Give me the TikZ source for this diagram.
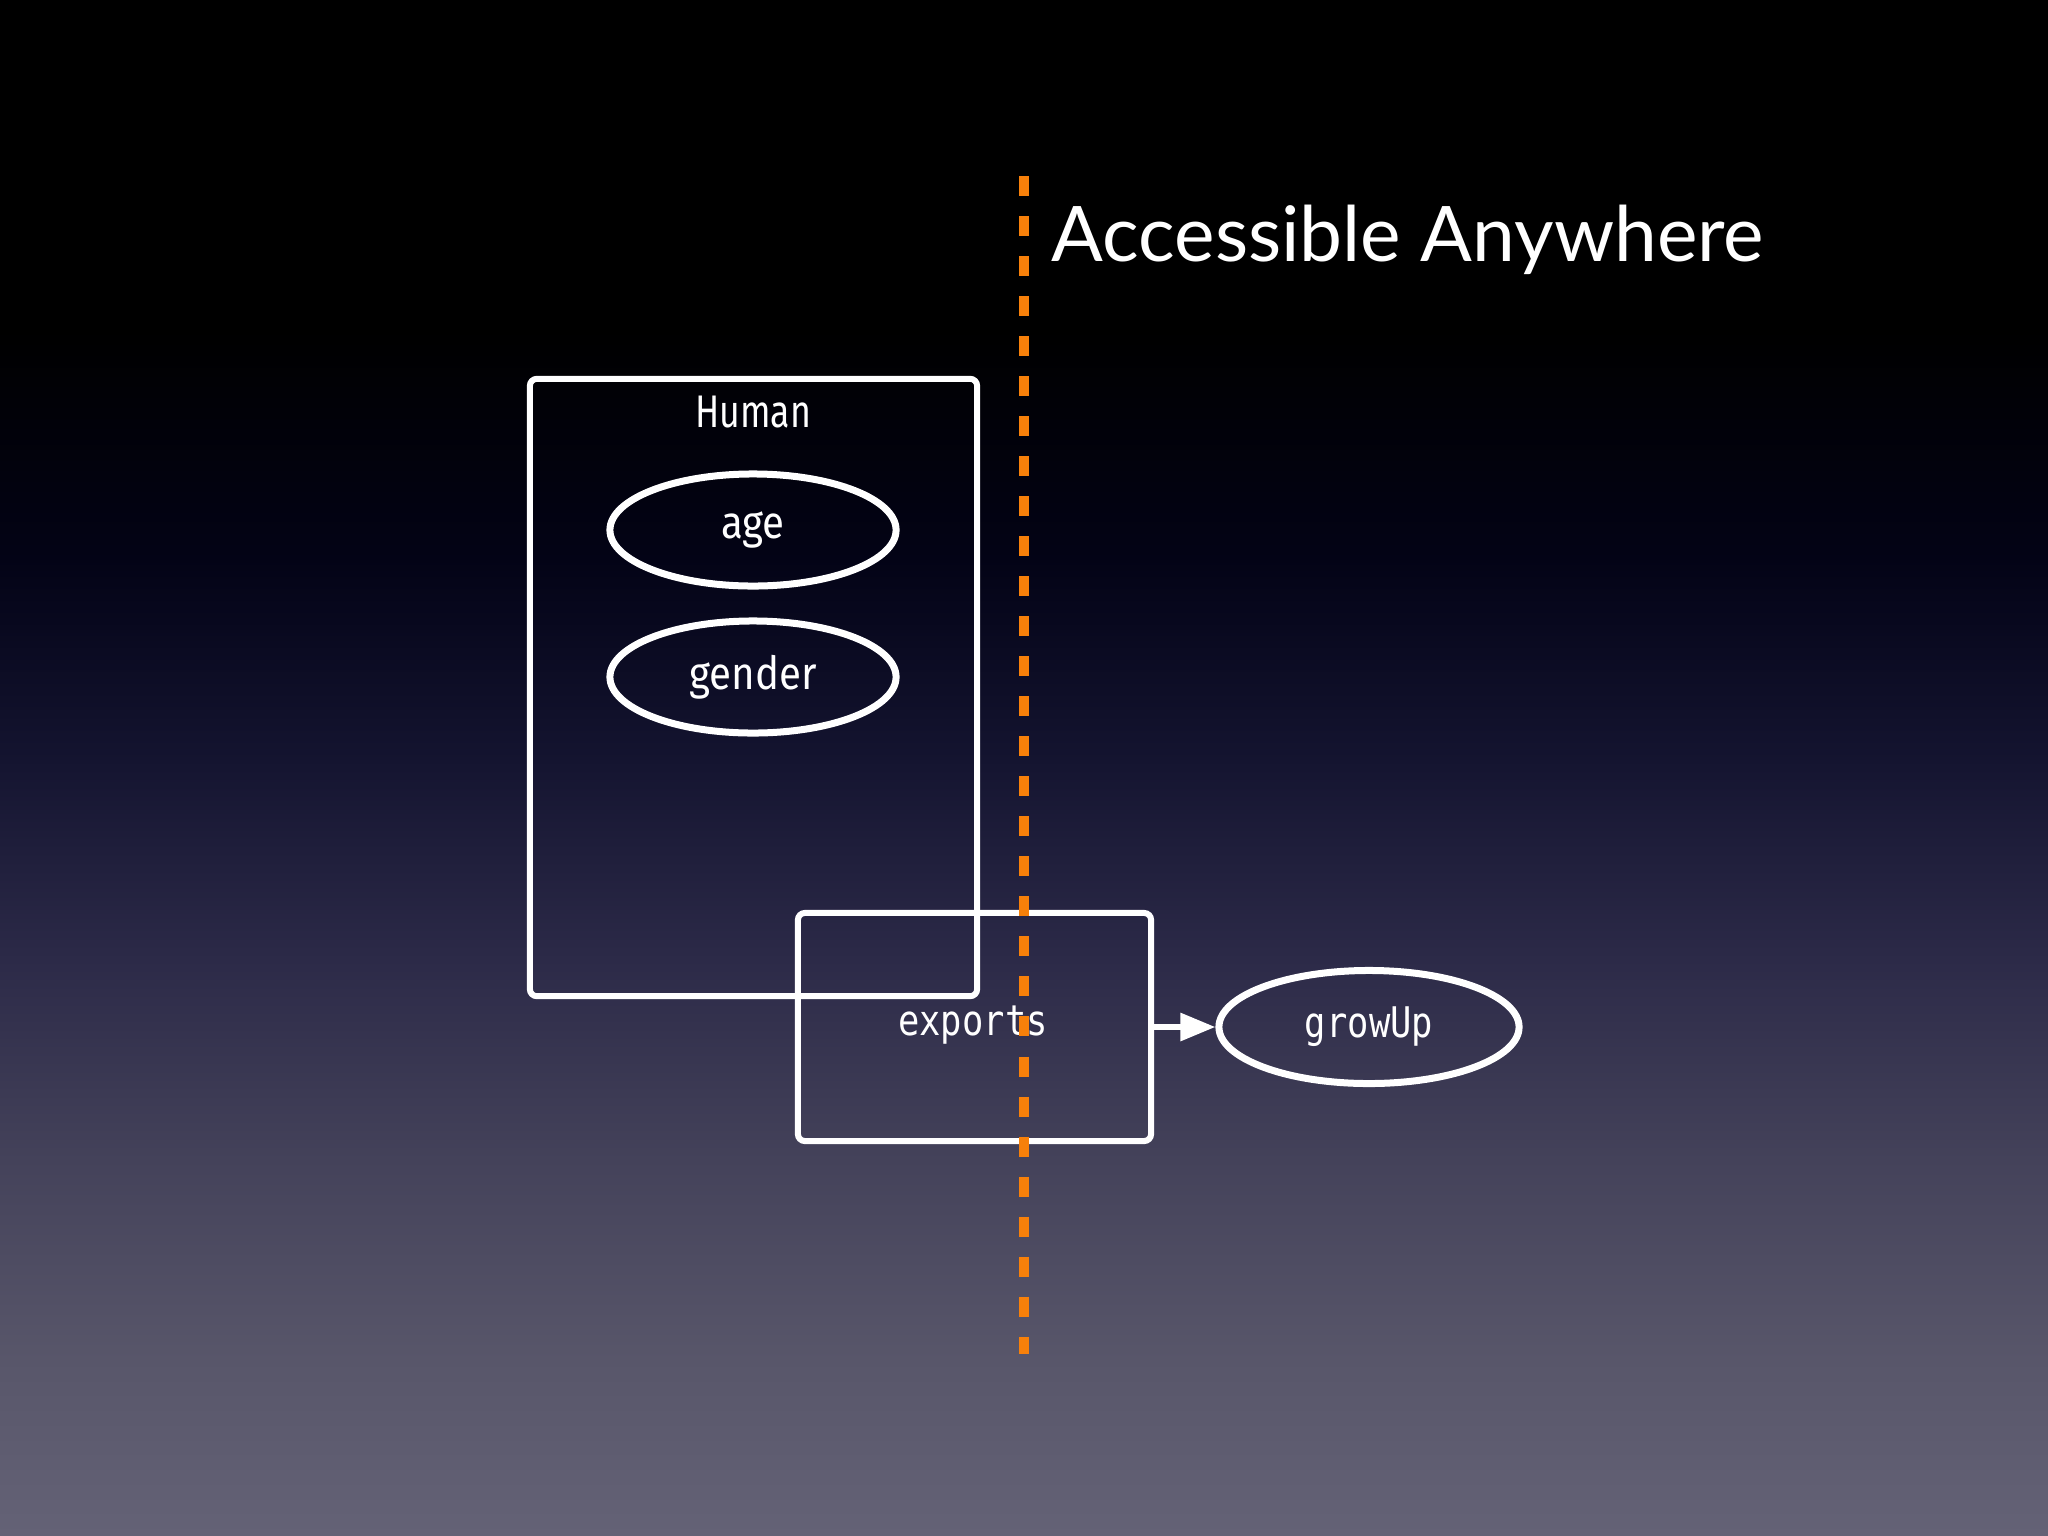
\documentclass[tikz,border=0pt]{standalone}
\usepackage{fontspec}
\usetikzlibrary{arrows.meta,shapes.geometric}
\newfontfamily\titlefont{Lato}
\newfontfamily\labelfont[FakeStretch=0.88]{Fira Sans}
\newfontfamily\headfont[FakeStretch=0.78]{Fira Sans}
\newfontfamily\codefont[FakeStretch=0.84]{DejaVu Sans Mono}
\definecolor{bgA}{RGB}{0,0,0}
\definecolor{bgB}{RGB}{3,3,22}
\definecolor{bgC}{RGB}{20,20,48}
\definecolor{bgD}{RGB}{44,42,72}
\definecolor{bgE}{RGB}{68,66,90}
\definecolor{bgF}{RGB}{88,86,106}
\definecolor{bgG}{RGB}{100,98,118}
\definecolor{dashorange}{RGB}{247,128,10}
\tikzset{
  frame/.style={draw=white, line width=0.06cm, rounded corners=0.07cm, inner sep=0pt},
  oval/.style={draw=white, ellipse, line width=0.07cm, inner sep=0pt, text=white, font=\labelfont\fontsize{13}{15}\selectfont},
  lbl/.style={text=white, inner sep=0pt},
  link/.style={draw=white, line width=0.06cm, -{Triangle[length=0.35cm,width=0.27cm]}},
  divider/.style={draw=dashorange, line width=0.1cm, dash pattern=on 0.2cm off 0.2cm}
}
\begin{document}
\begin{tikzpicture}[x=0.01cm,y=-0.01cm]
% background
\useasboundingbox (0,0) rectangle (2048,1536);
\fill[bgA] (0,0) rectangle (2048,330);
\shade[top color=bgA, bottom color=bgB] (0,329) rectangle (2048,560);
\shade[top color=bgB, bottom color=bgC] (0,559) rectangle (2048,760);
\shade[top color=bgC, bottom color=bgD] (0,759) rectangle (2048,960);
\shade[top color=bgD, bottom color=bgE] (0,959) rectangle (2048,1160);
\shade[top color=bgE, bottom color=bgF] (0,1159) rectangle (2048,1360);
\shade[top color=bgF, bottom color=bgG] (0,1359) rectangle (2048,1536);

% boxes
\node[frame, minimum width=4.47cm, minimum height=6.17cm] (human) at (753.5,687.5) {};
\node[lbl, font=\headfont\fontsize{13}{15}\selectfont] (humanlbl) at (753,412) {Human};
\node[oval, minimum width=2.86cm, minimum height=1.12cm] (age) at (753,530) {age};
\node[oval, minimum width=2.86cm, minimum height=1.12cm] (gender) at (753,677) {gender};

\node[frame, minimum width=3.53cm, minimum height=2.28cm] (exports) at (974.5,1027) {};
\node[lbl, font=\codefont\fontsize{12}{14}\selectfont] (exportslbl) at (973,1025) {exports};

\node[oval, minimum width=3.0cm, minimum height=1.13cm, font=\codefont\fontsize{12}{14}\selectfont] (growup) at (1369,1027) {growUp};

\draw[link] (exports.east) -- (growup.west);

% title
\node[lbl, anchor=base west, font=\titlefont] (title) at (1051,261) {\resizebox{7.12cm}{!}{Accessible Anywhere}};

% divider
\coordinate (dtop) at (1024,176);
\coordinate (dbot) at (1024,1354);
\draw[divider] (dtop) -- (dbot);
\end{tikzpicture}
\end{document}
